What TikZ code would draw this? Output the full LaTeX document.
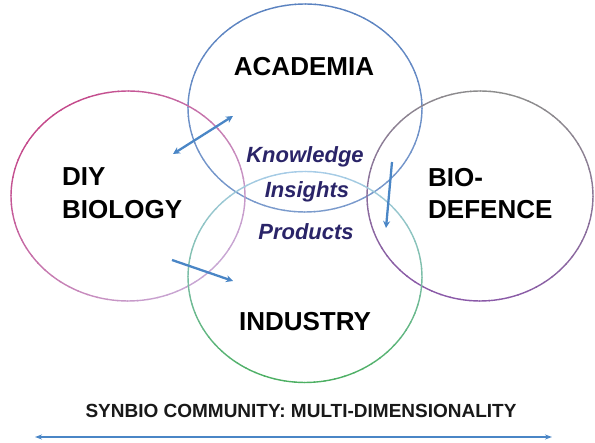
\documentclass[tikz,border=0pt]{standalone}
\usepackage{fontspec}
\setmainfont{Liberation Sans}
\usetikzlibrary{arrows.meta}
\definecolor{acadblue}{HTML}{5A82C0}
\definecolor{diypink}{HTML}{C4488A}
\definecolor{diylilac}{HTML}{C8A8D4}
\definecolor{biogrey}{HTML}{8C8C8C}
\definecolor{biopurple}{HTML}{8A58A8}
\definecolor{indgreen}{HTML}{4CAF62}
\definecolor{indblue}{HTML}{A8CCE8}
\definecolor{arrowblue}{HTML}{4A86C6}
\definecolor{navy}{HTML}{2A2468}
\newcommand{\gradell}[7]{%
  % #1 cx, #2 cy, #3 rx, #4 ry, #5 colour A, #6 colour B, #7 angle of B
  \foreach \t in {0,5,...,355}{%
    \pgfmathtruncatemacro\p{50*(1+cos(\t+2.5-#7))}%
    \draw[ringline, draw=#6!\p!#5] (#1,#2) ++(\t:#3 and #4)
      arc[start angle=\t, end angle=\t+5.5, x radius=#3, y radius=#4];
  }%
}
\begin{document}
\begin{tikzpicture}[x=1pt,y=-1pt,
  ringline/.style={line width=1.4pt},
  bigtext/.style={font=\fontsize{26}{30}\selectfont\bfseries, text=black, inner sep=0pt, anchor=base},
  midtext/.style={font=\fontsize{22}{26}\selectfont\bfseries\itshape, text=navy, inner sep=0pt, anchor=base},
  captext/.style={font=\fontsize{19}{22}\selectfont\bfseries, text=black!90, inner sep=0pt, anchor=base},
  flow/.style={draw=arrowblue, line width=2.3pt, -{Stealth[length=7pt,width=7pt]}},
  flowboth/.style={draw=arrowblue, line width=2.3pt, {Stealth[length=7pt,width=7pt]}-{Stealth[length=7pt,width=7pt]}},
  axis/.style={draw=arrowblue, line width=1.5pt, {Stealth[length=7pt,width=5pt]}-{Stealth[length=7pt,width=5pt]}}
]
\useasboundingbox (0,0) rectangle (595,443);

% circles
\gradell{305}{108}{117}{104}{acadblue}{acadblue!80!white}{90}
\gradell{128}{196}{117}{105}{diypink}{diylilac}{45}
\gradell{480}{196}{113}{105}{biogrey}{biopurple}{100}
\gradell{305}{277}{117}{105.5}{indgreen}{indblue}{270}

% labels
\node[bigtext] (acad) at (304,76) {ACADEMIA};
\node[bigtext, anchor=base west] (diy) at (62,186) {DIY};
\node[bigtext, anchor=base west] (biol) at (62,219) {BIOLOGY};
\node[bigtext, anchor=base west] (bio) at (428,187) {BIO-};
\node[bigtext, anchor=base west] (def) at (428,219) {DEFENCE};
\node[bigtext] (ind) at (305,331) {INDUSTRY};

\node[midtext] (know) at (305,163) {Knowledge};
\node[midtext] (ins) at (307,198) {Insights};
\node[midtext] (prod) at (306,240) {Products};

\node[captext] (cap) at (301,418) {SYNBIO COMMUNITY: MULTI-DIMENSIONALITY};

% arrows
\coordinate (a1) at (173,154);
\coordinate (a2) at (233,116);
\coordinate (b1) at (392,162);
\coordinate (b2) at (386,228);
\coordinate (c1) at (172,260);
\coordinate (c2) at (233,281);
\coordinate (d1) at (35,437);
\coordinate (d2) at (552,437);

\draw[flowboth] (a1) -- (a2);
\draw[flow] (b1) -- (b2);
\draw[flow] (c1) -- (c2);
\draw[axis] (d1) -- (d2);
\end{tikzpicture}
\end{document}
